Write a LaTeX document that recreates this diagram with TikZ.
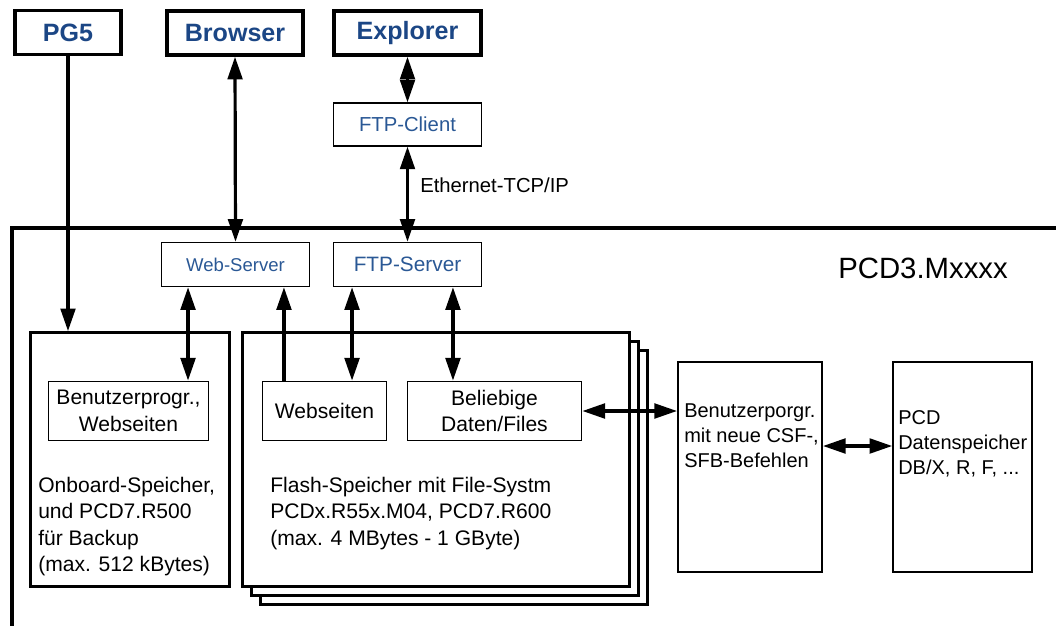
\documentclass[tikz,border=0pt]{standalone}
\usepackage{fontspec}
\setmainfont{Liberation Sans}
\definecolor{titleblue}{HTML}{1B4685}
\definecolor{serverblue}{HTML}{2A5895}
\usetikzlibrary{arrows.meta, calc}

\begin{document}
\begin{tikzpicture}[
  x=0.75pt, y=-0.75pt,
  font=\fontsize{15.8}{19.8}\selectfont,
  tool/.style={
    draw, line width=2.6pt, minimum height=33pt, inner sep=0pt,
    text=titleblue, font=\fontsize{18.8}{20}\selectfont\bfseries
  },
  srv/.style={
    draw, line width=1.1pt, minimum width=111pt, minimum height=33pt,
    inner sep=0pt, text=serverblue, font=\fontsize{15.4}{17}\selectfont
  },
  mem/.style={draw, fill=white, line width=2pt, minimum width=290pt,
    minimum height=190.5pt, inner sep=0pt},
  item/.style={draw, line width=1.3pt, minimum height=44.25pt,
    inner sep=0pt, align=center},
  prog/.style={draw, line width=1.4pt, minimum height=157.5pt, inner sep=0pt},
  txt/.style={anchor=west, inner sep=0pt, align=left},
  arr/.style={-{Triangle[length=17pt,width=11pt]}, line width=2.4pt},
  darr/.style={{Triangle[length=17pt,width=11pt]}-{Triangle[length=17pt,width=11pt]},
    line width=2.4pt},
  housing/.style={line width=3.6pt}
]
  \useasboundingbox (0,0) rectangle (1056,625);
  \clip (0,0) rectangle (1056,625);

  % PCD3 housing
  \draw[housing] (12,640) |- (1070,228);
  \node[txt] (pcdname) at (838,268) {\fontsize{22}{24}\selectfont PCD3.Mxxxx};

  % tools on the PC
  \node[tool, minimum width=79.5pt] (pg5) at (68,32.5) {PG5};
  \node[tool, minimum width=102pt] (browser) at (235,33) {Browser};
  \node[tool, minimum width=110pt] (explorer) at (407.5,33) {Explorer};
  \node[srv, minimum height=32pt, font=\fontsize{15.2}{17}\selectfont] (ftpcli)
    at (407.5,124.5) {FTP-Client};
  \node[txt, font=\fontsize{15.2}{17}\selectfont] (eth) at (420,185) {Ethernet-TCP/IP};

  % servers
  \node[srv, font=\fontsize{13.9}{17}\selectfont] (websrv) at (235.5,264.5) {Web-Server};
  \node[srv, font=\fontsize{15.6}{17}\selectfont] (ftpsrv) at (407.5,264.5) {FTP-Server};

  % memories
  \node[mem, minimum width=149pt] (onboard) at (130,459.5) {};
  \foreach \k in {2,1}
    \node[mem] (flash\k) at ($(436,459.5)+(9*\k,9*\k)$) {};
  \node[mem] (flash) at (436,459.5) {};

  \node[item, minimum width=120pt] (usrprog) at (128.5,411)
    {Benutzerprogr.,\\Webseiten};
  \node[item, minimum width=93pt] (webpages) at (324.5,411) {Webseiten};
  \node[item, minimum width=130.5pt] (anyfiles) at (494.5,411)
    {Beliebige\\Daten/Files};

  \node[txt] (onbtxt) at (38,526.5)
    {Onboard-Speicher,\\und PCD7.R500\\für Backup\\(max. 512 kBytes)};
  \node[txt] (flashtxt) at (270,513.5)
    {Flash-Speicher mit File-Systm\\PCDx.R55x.M04, PCD7.R600\\(max. 4 MBytes - 1 GByte)};

  % user program and data
  \node[prog, minimum width=108pt] (userprog) at (750,467) {};
  \node[prog, minimum width=104pt] (pcdmem) at (962.5,467) {};
  \node[txt, font=\fontsize{15}{18.75}\selectfont] (usertxt) at (684,436)
    {Benutzerporgr.\\mit neue CSF-,\\SFB-Befehlen};
  \node[txt, font=\fontsize{15}{18.75}\selectfont] (pcdtxt) at (898,444)
    {PCD\\Datenspeicher\\DB/X, R, F, ...};

  % connections
  \draw[arr] (pg5.south) -- (pg5.south |- onboard.north);
  \draw[darr] (browser.south) -- (websrv.north);
  \draw[darr] (explorer.south) -- (ftpcli.north);
  \draw[darr] (ftpcli.south) -- (ftpsrv.north);
  \draw[darr] ([xshift=-35.6pt]websrv.south) -- ([xshift=-35.6pt]websrv.south |- usrprog.north);
  \draw[arr] ([xshift=-30.4pt]webpages.north) -- ([xshift=-30.4pt]webpages.north |- websrv.south);
  \draw[darr] ([xshift=-41.6pt]ftpsrv.south) -- ([xshift=-41.6pt]ftpsrv.south |- webpages.north);
  \draw[darr] ([xshift=34.1pt]ftpsrv.south) -- ([xshift=34.1pt]ftpsrv.south |- anyfiles.north);
  \draw[darr] (anyfiles.east) -- (anyfiles.east -| userprog.west);
  \draw[darr] ([yshift=15.75pt]userprog.east) -- ([yshift=15.75pt]pcdmem.west);
\end{tikzpicture}
\end{document}
